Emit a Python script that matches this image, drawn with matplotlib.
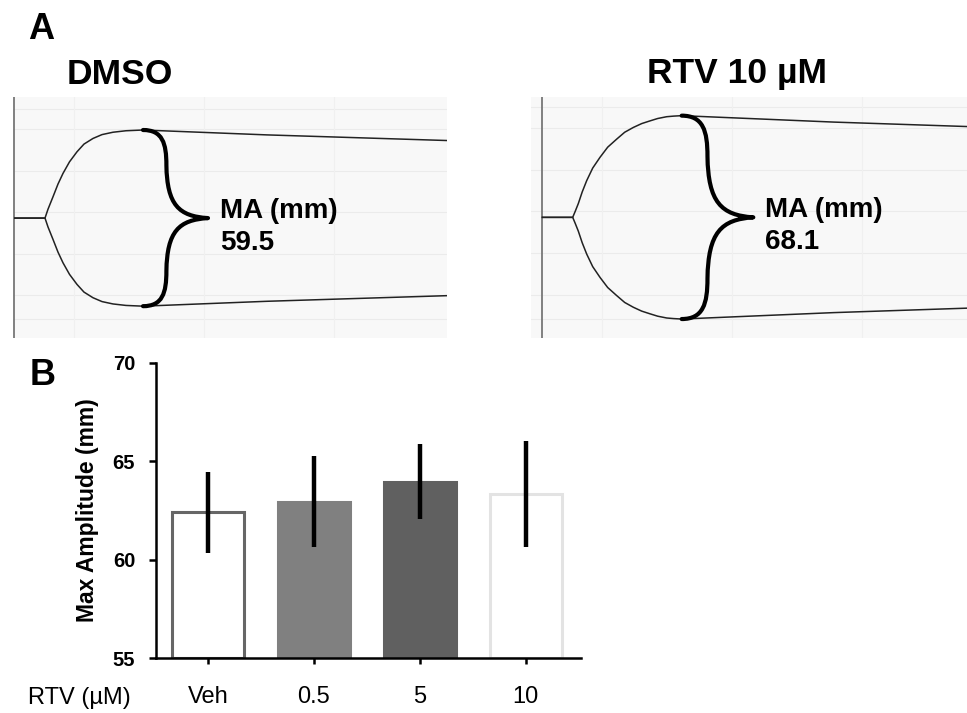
import matplotlib
matplotlib.use("Agg")
import matplotlib.pyplot as plt
from matplotlib.path import Path
from matplotlib.patches import PathPatch
import numpy as np

plt.rcParams['font.family'] = ['Liberation Sans', 'DejaVu Sans']

# ---------------- Data ----------------
# Panel A: TEG tracings (time units vs half-amplitude in mm, upper envelope; lower is mirrored)
dmso_time = [0, 31, 34, 39, 44, 49, 55.5, 63, 70, 79, 88, 99, 112, 129, 253, 433]
dmso_amp = [0, 0, 3.0, 7.2, 11.5, 15.1, 19.0, 22.4, 25.0, 26.9, 28.2, 29.0, 29.5, 29.75, 28.1, 26.2]
dmso_ma = 59.5

rtv_time = [0, 31, 33.5, 36.6, 40.5, 45, 51, 58.3, 66, 75, 83, 91.6, 100, 108.3, 116, 125, 132, 140, 292, 426]
rtv_amp = [0, 0, 2.0, 4.6, 8.5, 12.3, 16.5, 20.1, 23.5, 26.2, 28.5, 30.1, 31.4, 32.3, 33.1, 33.7, 33.9, 34.05,
           31.9, 30.4]
rtv_ma = 68.1

# Panel B: bar chart
categories = ['Veh', '0.5', '5', '10']
means = [62.4, 62.95, 63.95, 63.35]
errors = [2.05, 2.3, 1.9, 2.7]
y_ticks = [55, 60, 65, 70]

W, H = 967, 713
fig = plt.figure(figsize=(W / 100, H / 100), dpi=100)


def px_axes(x0, y0, x1, y1):
    return fig.add_axes([x0 / W, 1 - y1 / H, (x1 - x0) / W, (y1 - y0) / H])


def brace(ax, x0, half, w, lw=3.0):
    # curly brace opening left, spanning +half to -half at x0, tip at x0 + w
    verts = [
        (x0, half),
        (x0 + 0.30 * w, half), (x0 + 0.36 * w, 0.85 * half), (x0 + 0.36 * w, 0.60 * half),
        (x0 + 0.37 * w, 0.15 * half), (x0 + 0.55 * w, 0.02 * half), (x0 + w, 0),
        (x0 + 0.55 * w, -0.02 * half), (x0 + 0.37 * w, -0.15 * half), (x0 + 0.36 * w, -0.60 * half),
        (x0 + 0.36 * w, -0.85 * half), (x0 + 0.30 * w, -half), (x0, -half),
    ]
    codes = [Path.MOVETO] + [Path.CURVE4] * 12
    ax.add_patch(PathPatch(Path(verts, codes), fill=False, lw=lw, color='black',
                           capstyle='round', joinstyle='round', zorder=5))


def teg_panel(box, xlim, ylim, t, a, ma, brace_w, label_val):
    ax = px_axes(*box)
    ax.set_facecolor('#f8f8f8')
    ax.set_xlim(*xlim)
    ax.set_ylim(*ylim)
    for s in ax.spines.values():
        s.set_visible(False)
    ax.set_xticks([])
    ax.set_yticks([])
    # faint grid paper lines
    for gy in [-34, -26, -12, 2, 16, 30, 37]:
        ax.axhline(gy, color='#ebebeb', lw=0.8, zorder=1)
    for gx in [60, 190, 320]:
        ax.axvline(gx, color='#f0f0f0', lw=0.8, zorder=1)
    ax.axvline(0, color='#777777', lw=1.3, zorder=2)
    t = np.asarray(t)
    a = np.asarray(a)
    ax.plot(t, a, color='#222222', lw=1.1, zorder=3, solid_capstyle='butt')
    ax.plot(t, -a, color='#222222', lw=1.1, zorder=3, solid_capstyle='butt')
    pk = int(np.argmax(a))
    brace(ax, t[pk], ma / 2, brace_w)
    tip = (t[pk] + brace_w, 0)
    ax.annotate('MA (mm)', xy=tip, xytext=(8.6, 0), textcoords='offset points',
                fontsize=20, fontweight='bold', va='baseline', ha='left')
    ax.annotate(label_val, xy=tip, xytext=(8.6, -23), textcoords='offset points',
                fontsize=20, fontweight='bold', va='baseline', ha='left')
    return ax


teg_panel((13, 97, 447, 338), (-1, 433), (-40.5, 40.9), dmso_time, dmso_amp, dmso_ma, 65, f'{dmso_ma}')
teg_panel((531, 97, 967, 338), (-10.7, 425.3), (-40.4, 40.3), rtv_time, rtv_amp, rtv_ma, 71.6, f'{rtv_ma}')

fig.text(28 / W, 1 - 39.3 / H, 'A', fontsize=26, fontweight='bold', va='baseline', ha='left')
fig.text(66.7 / W, 1 - 83.5 / H, 'DMSO', fontsize=25.5, fontweight='bold', va='baseline', ha='left')
fig.text(646.7 / W, 1 - 83.5 / H, 'RTV 10 µM', fontsize=25.5, fontweight='bold', va='baseline', ha='left')
fig.text(30 / W, 1 - 385 / H, 'B', fontsize=26, fontweight='bold', va='baseline', ha='left')

# ---------------- Panel B ----------------
axb = px_axes(156, 362.7, 581, 658.3)
x = np.arange(len(categories))
faces = ['white', '#808080', '#606060', 'white']
edges = ['#666666', '#808080', '#606060', '#e3e3e3']
axb.bar(x, [m - 55 for m in means], bottom=55, width=0.68, color=faces, edgecolor=edges,
        linewidth=2.2, zorder=2)
axb.errorbar(x, means, yerr=errors, fmt='none', ecolor='black', elinewidth=3.2, capsize=0, zorder=3)
axb.set_xlim(-0.493, 3.523)
axb.set_ylim(55, 70)
axb.set_yticks(y_ticks)
axb.set_yticklabels([str(v) for v in y_ticks], fontsize=14.5, fontweight='bold')
axb.set_xticks(x)
axb.set_xticklabels(categories, fontsize=17)
axb.spines['top'].set_visible(False)
axb.spines['right'].set_visible(False)
axb.spines['left'].set_linewidth(1.8)
axb.spines['bottom'].set_linewidth(1.8)
axb.tick_params(axis='y', direction='out', length=5, width=1.8, pad=10)
axb.tick_params(axis='x', direction='out', length=4, width=1.8, pad=16)
axb.set_ylabel('Max Amplitude (mm)', fontsize=16.5, fontweight='bold', labelpad=10)
fig.text(28 / W, 1 - 704 / H, 'RTV (µM)', fontsize=17, va='baseline', ha='left')

fig.savefig('out.png', dpi=100)
